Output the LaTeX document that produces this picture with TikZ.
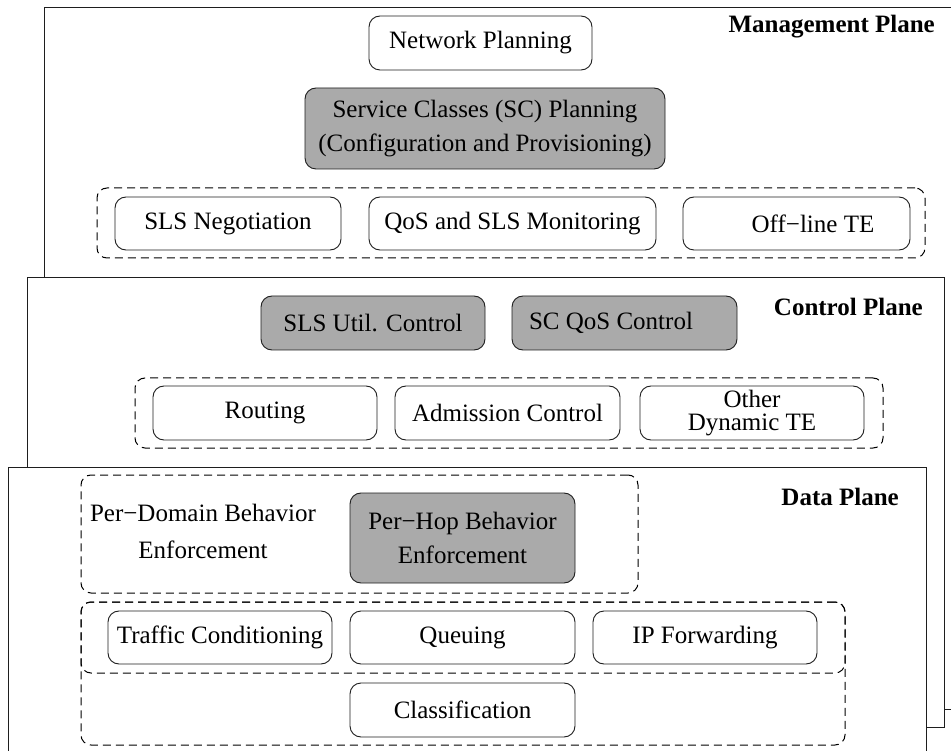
\documentclass[tikz,border=0pt]{standalone}
\usepackage{fontspec}
\setmainfont{Liberation Serif}
\definecolor{boxgray}{RGB}{170,170,170}
\definecolor{linec}{RGB}{30,30,30}
\begin{document}
\begin{tikzpicture}[x=1pt,y=-1pt,
  plane/.style={draw=linec, line width=1.3pt, fill=white, inner sep=0pt, anchor=north west},
  box/.style={draw=linec, line width=0.9pt, rounded corners=11pt, fill=white, inner sep=0pt, align=center, font=\fontsize{25}{34}\selectfont},
  graybox/.style={box, fill=boxgray},
  grp/.style={draw=black, line width=1pt, dash pattern=on 8pt off 5pt, rounded corners=10pt, inner sep=0pt},
  planelabel/.style={anchor=east, font=\fontsize{25}{30}\selectfont\bfseries, inner sep=0pt},
  plain/.style={inner sep=0pt, align=center, font=\fontsize{25}{37}\selectfont},
]
\useasboundingbox (0,0) rectangle (951,751);
\clip (0,0) rectangle (951,751);

% ---------------- Management plane ----------------
\node[plane, minimum width=960pt, minimum height=702pt] (mplane) at (44,7) {};
\node[planelabel] (mlabel) at (935,27) {Management Plane};
\node[box, minimum width=223pt, minimum height=54pt] (np) at (480.5,43) {Network Planning};
\node[graybox, minimum width=360pt, minimum height=81pt] (scp) at (485,128.5)
  {Service Classes (SC) Planning\\(Configuration and Provisioning)};
\node[grp, minimum width=828pt, minimum height=70pt] (mgrp) at (511,223) {};
\node[box, minimum width=226pt, minimum height=53pt] (slsn) at (228,223.5) {SLS Negotiation};
\node[box, minimum width=287pt, minimum height=53pt] (qos) at (512.5,223.5) {QoS and SLS Monitoring};
\node[box, minimum width=227pt, minimum height=53pt] (offte) at (796.5,223.5) {\hspace*{33pt}Off−line TE};

% ---------------- Control plane ----------------
\node[plane, minimum width=917pt, minimum height=450pt] (cplane) at (27,277) {};
\node[planelabel] (clabel) at (923,307) {Control Plane};
\node[graybox, minimum width=224pt, minimum height=54pt] (sutil) at (373,323) {SLS Util. Control};
\node[graybox, minimum width=225pt, minimum height=54pt] (scqos) at (624.5,323) {SC QoS Control\hspace*{27pt}};
\node[grp, minimum width=748pt, minimum height=70pt] (cgrp) at (509,413) {};
\node[box, minimum width=224pt, minimum height=54pt] (routing) at (265,413) {Routing};
\node[box, minimum width=225pt, minimum height=54pt] (adm) at (507.5,413) {Admission Control};
\node[box, minimum width=224pt, minimum height=54pt, font=\fontsize{25}{23}\selectfont] (otherte) at (752,413) {Other\\Dynamic TE};

% ---------------- Data plane ----------------
\node[plane, minimum width=918pt, minimum height=340pt] (dplane) at (8,467) {};
\node[planelabel] (dlabel) at (899,497) {Data Plane};
\node[grp, minimum width=557pt, minimum height=118pt] (pdb) at (359.5,534) {};
\node[plain] (pdbtext) at (203,531.5) {Per−Domain Behavior\\Enforcement};
\node[graybox, minimum width=225pt, minimum height=90pt] (phb) at (462.5,538) {Per−Hop Behavior\\Enforcement};
\node[grp, minimum width=764pt, minimum height=143pt] (dgrpb) at (463,673.5) {};
\node[grp, minimum width=764pt, minimum height=71pt] (dgrpa) at (463,637.5) {};
\node[box, minimum width=224pt, minimum height=53pt] (traffic) at (220,637.5) {Traffic Conditioning};
\node[box, minimum width=225pt, minimum height=53pt] (queuing) at (462.5,637.5) {Queuing};
\node[box, minimum width=224pt, minimum height=53pt] (ipfwd) at (705,637.5) {IP Forwarding};
\node[box, minimum width=225pt, minimum height=54pt] (classif) at (462.5,710) {Classification};
\end{tikzpicture}
\end{document}
